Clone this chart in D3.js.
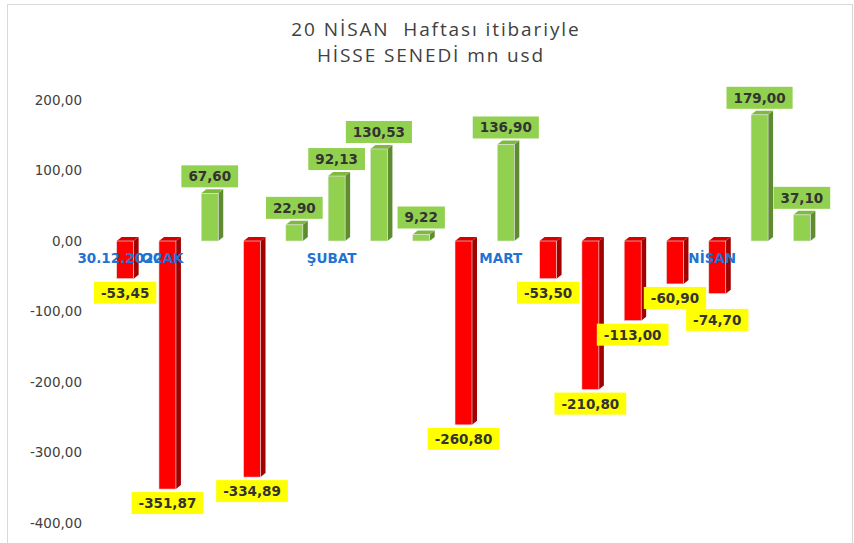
<!DOCTYPE html>
<html>
<head>
<meta charset="utf-8">
<script src="https://cdn.jsdelivr.net/npm/d3@7"></script>
<style>
  body { margin: 0; background: #fff; }
</style>
</head>
<body>
<div id="chart"></div>
<script>
/* CONSTANTS AND GLOBALS */
const width = 854;
const height = 543;

// DATA ###########################################
const categories = ["30.12.2022", "OCAK", "", "", "", "ŞUBAT", "", "", "", "MART", "", "", "", "", "NİSAN", "", ""];
const values = [-53.45, -351.87, 67.60, -334.89, 22.90, 92.13, 130.53, 9.22, -260.80, 136.90, -53.50, -210.80, -113.00, -60.90, -74.70, 179.00, 37.10];
const yTicks = [200, 100, 0, -100, -200, -300, -400];
const titleLines = ["20 NİSAN  Haftası itibariyle", "HİSSE SENEDİ mn usd"];

const data = values.map((v, i) => ({ i, value: v, cat: categories[i] }));

// turkish style numbers: comma decimals, plain hyphen minus
const locale = d3.formatLocale({ decimal: ",", thousands: ".", grouping: [3], currency: ["", ""], minus: "-" });
const fmt = locale.format(".2f");

const colors = {
  pos: { front: "#92d050", side: "#5f8c31", top: "#7fb941", label: "#92d050" },
  neg: { front: "#ff0000", side: "#a30000", top: "#d60000", label: "#ffff00" }
};

const depth = { dx: 5, dy: 4 };
const barW = 17;

// SCALES =================================================
const xScale = d3.scaleBand()
  .domain(data.map(d => d.i))
  .range([104, 823]);

const yScale = d3.scaleLinear()
  .domain([-400, 200])
  .range([523, 100]);

// SVG ====================================================
const svg = d3.select("#chart")
  .append("svg")
  .attr("width", width)
  .attr("height", height);

// chart frame
svg.append("rect")
  .attr("x", 7.5)
  .attr("y", 4.5)
  .attr("width", 845)
  .attr("height", 560)
  .attr("fill", "none")
  .attr("stroke", "#d9d9d9");

// title
svg.append("text")
  .attr("text-anchor", "middle")
  .style("font-family", "'Open Sans', sans-serif")
  .style("font-size", "19px")
  .style("letter-spacing", "1.9px")
  .attr("fill", "#404040")
  .style("white-space", "pre")
  .selectAll("tspan")
  .data(titleLines)
  .join("tspan")
    .attr("x", (d, i) => i ? 431 : 436)
    .attr("y", (d, i) => 36 + i * 26)
    .text(d => d);

// y axis labels (no line, no ticks)
const yAxis = d3.axisLeft(yScale)
  .tickValues(yTicks)
  .tickSize(0)
  .tickPadding(0)
  .tickFormat(fmt);

const yAxisGroup = svg.append("g")
  .attr("transform", "translate(82,0)")
  .call(yAxis);
yAxisGroup.select(".domain").remove();
yAxisGroup.selectAll("text")
  .style("font-family", "'DejaVu Sans', sans-serif")
  .style("font-size", "13.5px")
  .attr("fill", "#404040");

// BARS ===================================================
const cx = d => xScale(d.i) + xScale.bandwidth() / 2;

const bars = svg.selectAll(".bar")
  .data(data)
  .join("g")
  .attr("class", "bar");

const yTop = d => Math.min(yScale(d.value), yScale(0));
const yBot = d => Math.max(yScale(d.value), yScale(0));
const pal = d => d.value >= 0 ? colors.pos : colors.neg;

// side face
bars.append("path")
  .attr("fill", d => pal(d).side)
  .attr("d", d => {
    const x = cx(d) + barW / 2;
    return `M${x},${yTop(d)} L${x + depth.dx},${yTop(d) - depth.dy} L${x + depth.dx},${yBot(d) - depth.dy} L${x},${yBot(d)} Z`;
  });

// top face
bars.append("path")
  .attr("fill", d => pal(d).top)
  .attr("d", d => {
    const x = cx(d) - barW / 2;
    const y = yTop(d);
    return `M${x},${y} L${x + depth.dx},${y - depth.dy} L${x + barW + depth.dx},${y - depth.dy} L${x + barW},${y} Z`;
  });

// front face
bars.append("rect")
  .attr("x", d => cx(d) - barW / 2)
  .attr("y", d => yTop(d))
  .attr("width", barW)
  .attr("height", d => yBot(d) - yTop(d))
  .attr("fill", d => pal(d).front)
  .attr("stroke", "#e6e6e6")
  .attr("stroke-width", 0.6);

// CATEGORY LABELS ========================================
svg.selectAll(".cat")
  .data(data.filter(d => d.cat !== ""))
  .join("text")
  .attr("class", "cat")
  .attr("x", d => cx(d) - 5)
  .attr("y", yScale(0) + 22)
  .attr("text-anchor", "middle")
  .style("font-family", "'DejaVu Sans', sans-serif")
  .style("font-weight", "bold")
  .style("font-size", "13.5px")
  .attr("fill", "#1f73d2")
  .text(d => d.cat);

// DATA LABELS ============================================
const labelH = 22;
const placed = [];

const labels = svg.selectAll(".lbl")
  .data(data)
  .join("g")
  .attr("class", "lbl");

labels.each(function(d) {
  const g = d3.select(this);
  const rect = g.append("rect").attr("fill", pal(d).label);
  const txt = g.append("text")
    .attr("text-anchor", "middle")
    .style("font-family", "'DejaVu Sans', sans-serif")
    .style("font-weight", "bold")
    .style("font-size", "13.5px")
    .attr("fill", "#333333")
    .text(fmt(d.value));

  const w = txt.node().getComputedTextLength() + 14;
  const x0 = cx(d) - w / 2;
  let y0 = d.value >= 0 ? yScale(d.value) - 6 - labelH : yScale(d.value) + 3;

  // push label down when it hits one already drawn
  placed.forEach(p => {
    if (x0 < p.x + p.w && x0 + w > p.x && y0 < p.y + p.h && y0 + labelH > p.y) {
      y0 = p.y + p.h;
    }
  });
  placed.push({ x: x0, y: y0, w, h: labelH });

  rect.attr("x", x0).attr("y", y0).attr("width", w).attr("height", labelH);
  txt.attr("x", cx(d)).attr("y", y0 + labelH / 2 + 5);
});
</script>
</body>
</html>
